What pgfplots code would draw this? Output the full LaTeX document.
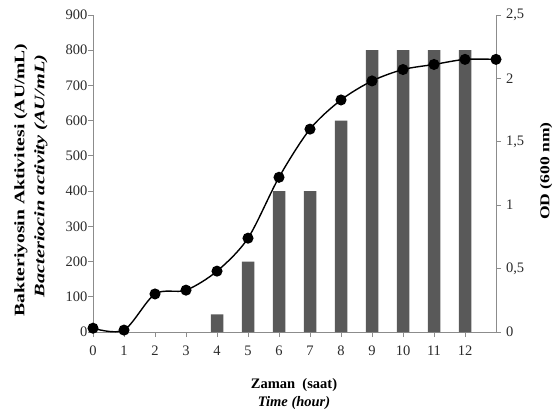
\documentclass[border=0pt]{standalone}
\usepackage{pgfplots}
\pgfplotsset{compat=1.18}
\usepackage{fontspec}
\setmainfont{Liberation Serif}
\definecolor{bargray}{HTML}{595959}
\definecolor{axgray}{HTML}{8C8C8C}
\definecolor{txtgray}{HTML}{2B2B2B}
\begin{document}
\begin{tikzpicture}
\path[use as bounding box] (0,0) rectangle (560pt,413pt);
\begin{axis}[
  at={(93pt,81pt)}, anchor=south west,
  scale only axis, width=403pt, height=317pt,
  xmin=0, xmax=13, ymin=0, ymax=900,
  axis y line*=left, axis x line*=bottom,
  axis line style={axgray, line width=0.8pt},
  every tick/.style={axgray, line width=0.8pt},
  tick align=outside, major tick length=5pt,
  xtick={0,...,12}, ytick={0,100,...,900},
  tick label style={font=\fontsize{14.5}{16}\selectfont, text=txtgray},
  yticklabel style={xshift=3pt},
  xticklabel style={yshift=-5pt},
  /pgf/number format/assume math mode=true,
  clip=false,
]
\addplot[ybar, bar width=12.5pt, fill=bargray, draw=none] coordinates {
(4,50) (5,200) (6,400) (7,400) (8,600) (9,800) (10,800) (11,800) (12,800)};
\end{axis}
\begin{axis}[
  at={(93pt,81pt)}, anchor=south west,
  scale only axis, width=403pt, height=317pt,
  xmin=0, xmax=13, ymin=0, ymax=2.5,
  axis y line*=right, axis x line=none,
  axis line style={axgray, line width=0.8pt},
  every tick/.style={axgray, line width=0.8pt},
  tick align=outside, major tick length=5pt,
  ytick={0,0.5,1,1.5,2,2.5},
  yticklabels={0,{0,5},1,{1,5},2,{2,5}},
  tick label style={font=\fontsize{14.5}{16}\selectfont, text=txtgray},
  yticklabel style={xshift=1.5pt},
  clip=false,
]
\addplot[black, line width=1.4pt, smooth, mark=*, mark size=4.8pt, mark options={fill=black}] coordinates {
(0,0.03) (1,0.015) (2,0.30) (3,0.33) (4,0.48) (5,0.74) (6,1.22) (7,1.60) (8,1.83) (9,1.98) (10,2.07) (11,2.11) (12,2.15) (13,2.15)};
\end{axis}
\node[font=\fontsize{14.5}{16}\selectfont\bfseries] at (294pt,28pt) {Zaman\ \ (saat)};
\node[font=\fontsize{14.5}{16}\selectfont\bfseries\itshape] at (294pt,10pt) {Time (hour)};
\node[rotate=90, font=\fontsize{14.5}{16}\selectfont\bfseries] at (21pt,233pt) {\scalebox{1.35}[1]{Bakteriyosin Aktivitesi (AU/mL)}};
\node[rotate=90, font=\fontsize{14.5}{16}\selectfont\bfseries\itshape] at (41pt,237pt) {\scalebox{1.4}[1]{Bacteriocin activity (AU/mL)}};
\node[rotate=90, font=\fontsize{13.5}{16}\selectfont\bfseries] at (546pt,242pt) {\scalebox{1.3}[1]{OD (600 nm)}};
\end{tikzpicture}
\end{document}
